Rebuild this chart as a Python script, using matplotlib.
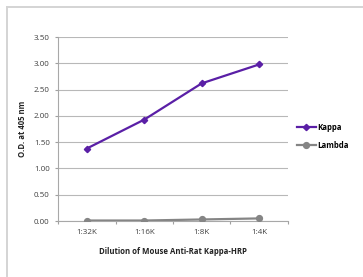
import matplotlib.pyplot as plt
from matplotlib.lines import Line2D

categories = ["1:32K", "1:16K", "1:8K", "1:4K"]
kappa = [1.38, 1.93, 2.62, 2.98]
lambda_ = [0.01, 0.01, 0.03, 0.05]
y_ticks = [0.0, 0.5, 1.0, 1.5, 2.0, 2.5, 3.0, 3.5]

plt.rcParams["font.family"] = ["Open Sans", "DejaVu Sans"]

fig = plt.figure(figsize=(3.63, 2.77), dpi=100, facecolor="white")
ax = fig.add_axes([0.160, 0.202, 0.633, 0.664])

x = list(range(len(categories)))
ax.plot(x, kappa, color="#5a1fa6", lw=1.6, marker="D", ms=3.2,
        label="Kappa", zorder=3)
ax.plot(x, lambda_, color="#858585", lw=1.6, marker="o", ms=4.2,
        label="Lambda", zorder=3)

ax.set_xlim(-0.5, len(categories) - 0.5)
ax.set_ylim(0, 3.5)
ax.set_yticks(y_ticks)
ax.set_yticklabels([f"{v:.2f}" for v in y_ticks])
ax.set_xticks([i + 0.5 for i in range(-1, len(categories))])
ax.set_xticklabels([])
ax.set_xticks(x, minor=True)
ax.set_xticklabels(categories, minor=True)
ax.tick_params(axis="x", which="minor", length=0, pad=6)
ax.tick_params(axis="x", which="major", length=2.5, color="#a0a0a0")
ax.tick_params(axis="y", length=2.5, color="#a0a0a0", pad=3.5)
ax.tick_params(which="both", labelsize=5.8, labelcolor="#404040")

ax.grid(axis="y", color="#b8b8b8", lw=0.8)
ax.set_axisbelow(True)
for side in ("top", "right"):
    ax.spines[side].set_visible(False)
for side in ("left", "bottom"):
    ax.spines[side].set_color("#a8a8a8")
    ax.spines[side].set_linewidth(0.8)

ax.set_ylabel("O.D. at 405 nm", fontsize=5.6, fontweight="bold",
              color="#222222", labelpad=5)
ax.set_xlabel("Dilution of Mouse Anti-Rat Kappa-HRP", fontsize=5.6,
              fontweight="bold", color="#222222", labelpad=8)

ax.legend(loc="center left", bbox_to_anchor=(1.01, 0.46), frameon=False,
          handlelength=2.4, handletextpad=0.2, labelspacing=1.1,
          prop={"weight": "bold", "size": 5.6})

# light frame around the picture
fig.add_artist(Line2D([0.018, 0.018], [0.005, 0.973], transform=fig.transFigure,
                      color="#d4d4d4", lw=1.4))
fig.add_artist(Line2D([0.018, 1.0], [0.973, 0.973], transform=fig.transFigure,
                      color="#d4d4d4", lw=1.4))

fig.savefig("out.png", dpi=100, facecolor="white")
